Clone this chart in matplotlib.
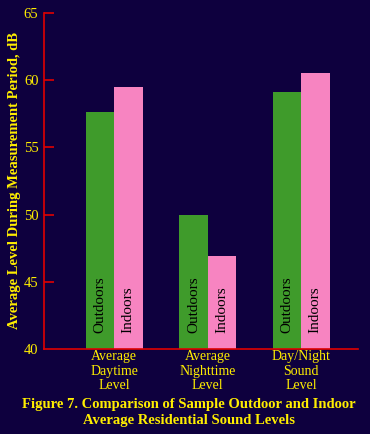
import matplotlib
matplotlib.use('Agg')
import matplotlib.pyplot as plt

categories = ['Average\nDaytime\nLevel', 'Average\nNighttime\nLevel', 'Day/Night\nSound\nLevel']
outdoors = [57.6, 50.0, 59.1]
indoors = [59.5, 46.9, 60.5]
yticks = [40, 45, 50, 55, 60, 65]

bg = '#0e003e'
yellow = '#ffee00'
red = '#e00000'
green = '#3f9b2b'
pink = '#f784c1'
serif = ['Liberation Serif', 'DejaVu Serif']

fig = plt.figure(figsize=(3.7, 4.34), dpi=100, facecolor=bg)
ax = fig.add_axes([0.119, 0.196, 0.849, 0.774], facecolor=bg)

x = [0, 1, 2]
w = 0.305
ax.bar([i - w / 2 for i in x], outdoors, width=w, bottom=0, color=green)
ax.bar([i + w / 2 for i in x], indoors, width=w, bottom=0, color=pink)

for i in x:
    ax.text(i - w / 2, 41.2, 'Outdoors', rotation=90, ha='center', va='bottom',
            color='black', fontsize=11, family=serif)
    ax.text(i + w / 2, 41.2, 'Indoors', rotation=90, ha='center', va='bottom',
            color='black', fontsize=11, family=serif)

ax.set_ylim(40, 65)
ax.set_xlim(-0.75, 2.61)
ax.set_yticks(yticks)
ax.set_yticklabels([str(t) for t in yticks], family=serif)
ax.set_xticks(x)
ax.set_xticklabels(categories, family=serif, linespacing=1.15)
ax.tick_params(axis='y', direction='in', length=7, width=1.2, color=red,
               labelcolor=yellow, labelsize=10.5, pad=4)
ax.yaxis.get_major_ticks()[0].tick1line.set_visible(False)
ax.tick_params(axis='x', length=0, labelcolor=yellow, labelsize=10, pad=1)

for s in ['top', 'right']:
    ax.spines[s].set_visible(False)
for s in ['left', 'bottom']:
    ax.spines[s].set_color(red)
    ax.spines[s].set_linewidth(1.2)

ax.set_ylabel('Average Level During Measurement Period, dB', color=yellow,
              fontsize=10.5, fontweight='bold', family=serif, labelpad=2)

fig.text(0.51, 0.05, 'Figure 7. Comparison of Sample Outdoor and Indoor\nAverage Residential Sound Levels',
         ha='center', va='center', color=yellow, fontsize=10.5, fontweight='bold',
         family=serif, linespacing=1.25)

fig.savefig('out.png', dpi=100, facecolor=bg)
